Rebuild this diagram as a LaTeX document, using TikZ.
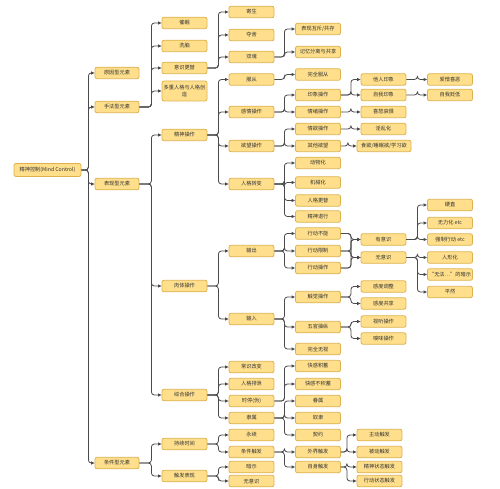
\documentclass[tikz,border=0pt]{standalone}
\usepackage{fontspec}
\newfontfamily\cjk{Noto Sans CJK SC}
\usetikzlibrary{arrows.meta}
\definecolor{boxfill}{HTML}{FFDF8C}
\definecolor{boxline}{HTML}{DDB24E}
\definecolor{edgecol}{HTML}{4A4A4A}
\tikzset{
  bx/.style={rectangle, rounded corners=2pt, fill=boxfill, draw=boxline, line width=0.8pt,
    minimum width=45pt, minimum height=11.5pt, inner sep=0pt, text=black!80,
    font=\cjk\fontsize{5.2}{6.5}\selectfont, align=center},
  conn/.style={draw=edgecol, line width=0.8pt, rounded corners=3pt,
    -{Triangle[length=3.5pt,width=3pt]}}
}
\newcommand\edg[3]{\foreach \cc in {#2} {\draw[conn] (#1.east) -- ++(#3,0) |- (\cc.west);}}
\begin{document}
\begin{tikzpicture}[x=1pt,y=-1pt]
\useasboundingbox (0,0) rectangle (500,489);
% level 0
\node[bx, minimum width=67pt, minimum height=13pt] (root) at (47.5,170) {精神控制(Mind Control)};
% level 1
\node[bx, minimum width=44pt] (yin) at (117,73) {原因型元素};
\node[bx, minimum width=44pt] (shou) at (117,107) {手法型元素};
\node[bx, minimum width=44pt] (biao) at (117,184) {表现型元素};
\node[bx, minimum width=44pt] (tiao) at (117,463) {条件型元素};
% level 2
\node[bx] (cuimian) at (184.5,23) {催眠};
\node[bx] (xinao) at (184.5,46) {洗脑};
\node[bx] (yishi) at (184.5,68) {意识更替};
\node[bx, minimum height=20pt] (duochong) at (184.5,91) {多重人格与人格创\\造};
\node[bx] (jingshen) at (184.5,135) {精神操作};
\node[bx] (routi) at (184.5,286) {肉体操作};
\node[bx] (zonghe) at (184.5,395) {综合操作};
\node[bx] (chixu) at (184.5,444) {持续时间};
\node[bx] (chufa) at (184.5,476) {触发表现};
% level 3
\node[bx] (jisheng) at (251.5,12) {寄生};
\node[bx] (duoshe) at (251.5,35) {夺舍};
\node[bx] (shuanghun) at (251.5,57) {双魂};
\node[bx] (fucong) at (251.5,79.5) {服从};
\node[bx] (ganqing) at (251.5,112) {感情操作};
\node[bx] (yuwang) at (251.5,146) {欲望操作};
\node[bx] (renge) at (251.5,184) {人格转变};
\node[bx] (shuchu) at (251.5,251) {输出};
\node[bx] (shuru) at (251.5,319) {输入};
\node[bx] (changshi) at (251.5,367) {常识改变};
\node[bx] (paixie) at (251.5,384) {人格排泄};
\node[bx] (shiting) at (251.5,401) {时停(伪)};
\node[bx] (lishu) at (251.5,418) {隶属};
\node[bx] (yongxu) at (251.5,435) {永续};
\node[bx] (tiaojian) at (251.5,452) {条件触发};
\node[bx] (anshi) at (251.5,467) {暗示};
\node[bx] (wuyishiB) at (251.5,481) {无意识};
% level 4
\node[bx] (huchi) at (318,29) {表现互斥/共存};
\node[bx] (jiyi) at (318,52) {记忆分离与共享};
\node[bx] (wanquan) at (318,74.5) {完全服从};
\node[bx] (yinxiang) at (318,95) {印象操作};
\node[bx] (qingxu) at (318,112) {情绪操作};
\node[bx] (qingyu) at (318,129) {情欲操作};
\node[bx] (qita) at (318,146) {其他欲望};
\node[bx] (dongwu) at (318,163) {动物化};
\node[bx] (jixie) at (318,182.5) {机械化};
\node[bx] (rengegeng) at (318,200.5) {人格更替};
\node[bx] (tuixing) at (318,216.5) {精神退行};
\node[bx] (buneng) at (318,233.5) {行动不能};
\node[bx] (xianzhi) at (318,251) {行动限制};
\node[bx] (caozuo) at (318,268) {行动操作};
\node[bx] (chujue) at (318,297) {触觉操作};
\node[bx] (wuguan) at (318,327) {五官操纵};
\node[bx] (wushi) at (318,349) {完全无视};
\node[bx] (kuaiji) at (318,366) {快感积蓄};
\node[bx] (kuaibu) at (318,384) {快感不积蓄};
\node[bx] (juanshu) at (318,401) {眷属};
\node[bx] (nuli) at (318,418) {奴隶};
\node[bx] (qiyue) at (318,435) {契约};
\node[bx] (waijie) at (318,452) {外界触发};
\node[bx] (zishen) at (318,467) {自身触发};
% level 5
\node[bx] (taren) at (383.5,79.5) {他人印象};
\node[bx] (ziwo) at (383.5,95) {自我印象};
\node[bx] (xinu) at (383.5,112) {喜怒哀惧};
\node[bx] (yinluan) at (383.5,129) {淫乱化};
\node[bx, minimum width=54pt] (shiyu) at (384,146) {食欲/睡眠欲/学习欲};
\node[bx] (youyishi) at (383.5,239.5) {有意识};
\node[bx] (wuyishi) at (383.5,257.5) {无意识};
\node[bx] (gandu) at (383.5,286.5) {感度调整};
\node[bx] (gandugong) at (383.5,303.5) {感度共享};
\node[bx] (shiting2) at (383.5,321.5) {视听操作};
\node[bx] (xiuwei) at (383.5,338.5) {嗅味操作};
\node[bx] (zhudong) at (379.5,435) {主动触发};
\node[bx] (beidong) at (379.5,452) {被动触发};
\node[bx] (jingshenzt) at (379.5,467) {精神状态触发};
\node[bx] (xingdongzt) at (379.5,481) {行动状态触发};
% level 6
\node[bx] (aizeng) at (450,79.5) {爱憎喜恶};
\node[bx] (zibian) at (450,95) {自我贬低};
\node[bx] (yingzhi) at (450,205) {硬直};
\node[bx] (wuli) at (450,223) {无力化 etc};
\node[bx] (qiangzhi) at (450,239.5) {强制行动 etc};
\node[bx] (renxing) at (450,257.5) {人形化};
\node[bx] (wufa) at (450,274.5) {“无法…”的暗示};
\node[bx] (pingran) at (450,292) {平然};
% edges
\edg{root}{yin,shou,biao,tiao}{7}
\edg{shou}{cuimian,xinao,yishi,duochong}{12}
\edg{biao}{jingshen,routi,zonghe}{12}
\edg{tiao}{chixu,chufa}{12}
\edg{yishi}{jisheng,duoshe,shuanghun}{11}
\edg{jingshen}{fucong,ganqing,yuwang,renge}{11}
\edg{routi}{shuchu,shuru}{11}
\edg{zonghe}{changshi,paixie,shiting,lishu}{11}
\edg{chixu}{yongxu,tiaojian}{11}
\edg{chufa}{anshi,wuyishiB}{11}
\edg{shuanghun}{huchi,jiyi}{10}
\edg{fucong}{wanquan}{10}
\edg{ganqing}{yinxiang,qingxu}{10}
\edg{yuwang}{qingyu,qita}{10}
\edg{renge}{dongwu,jixie,rengegeng,tuixing}{10}
\edg{shuchu}{buneng,xianzhi,caozuo}{10}
\edg{shuru}{chujue,wuguan,wushi}{10}
\edg{shiting}{kuaiji,kuaibu}{10}
\edg{lishu}{juanshu,nuli,qiyue}{10}
\edg{tiaojian}{waijie,zishen}{10}
\edg{yinxiang}{taren,ziwo}{10}
\edg{qingxu}{xinu}{10}
\edg{qingyu}{yinluan}{10}
\edg{qita}{shiyu}{7}
\edg{buneng}{youyishi,wuyishi}{10}
\edg{xianzhi}{youyishi,wuyishi}{10}
\edg{caozuo}{youyishi,wuyishi}{10}
\edg{chujue}{gandu,gandugong}{10}
\edg{wuguan}{shiting2,xiuwei}{10}
\edg{waijie}{zhudong,beidong}{6}
\edg{zishen}{jingshenzt,xingdongzt}{6}
\edg{taren}{aizeng}{11}
\edg{ziwo}{zibian}{11}
\edg{youyishi}{yingzhi,wuli,qiangzhi}{11}
\edg{wuyishi}{renxing,wufa,pingran}{11}
\end{tikzpicture}
\end{document}
